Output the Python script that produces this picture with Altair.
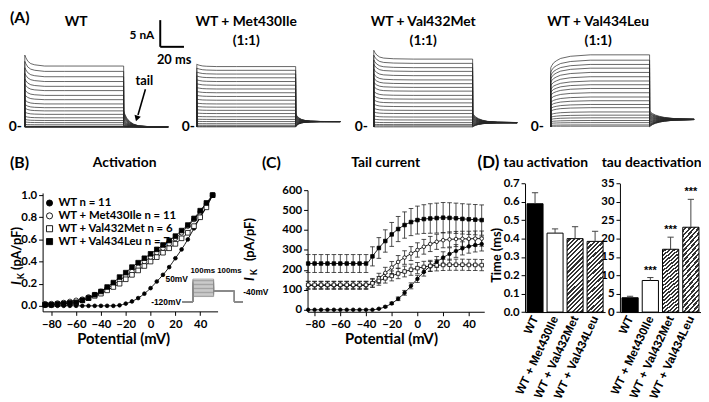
import altair as alt
import pandas as pd

# ======================= DATA =======================
SERIES = ["WT", "WT + Met430Ile", "WT + Val432Met", "WT + Val434Leu"]
N_CELLS = ["11", "11", "6", "7"]
V = [-85, -80, -75, -70, -65, -60, -55, -50, -45, -40, -35, -30, -25, -20,
     -15, -10, -5, 0, 5, 10, 15, 20, 25, 30, 35, 40, 45, 50]

# (B) normalised activation
ACT = {
    "WT": [0, 0, 0, 0, 0, 0, 0, 0, 0, 0, 0, 0, 0.005, 0.02, 0.04, 0.07, 0.11, 0.16,
           0.22, 0.28, 0.35, 0.43, 0.51, 0.60, 0.70, 0.80, 0.90, 1.0],
    "WT + Met430Ile": [0.02, 0.02, 0.025, 0.03, 0.04, 0.05, 0.06, 0.08, 0.10, 0.13, 0.16, 0.19,
                       0.23, 0.27, 0.31, 0.35, 0.40, 0.44, 0.48, 0.52, 0.56, 0.61, 0.66, 0.72,
                       0.78, 0.85, 0.92, 1.0],
    "WT + Val432Met": [0.01, 0.01, 0.015, 0.02, 0.025, 0.03, 0.05, 0.07, 0.09, 0.11, 0.14, 0.17,
                       0.20, 0.24, 0.28, 0.32, 0.36, 0.40, 0.44, 0.48, 0.52, 0.56, 0.61, 0.66,
                       0.72, 0.80, 0.89, 1.0],
    "WT + Val434Leu": [0.01, 0.01, 0.015, 0.02, 0.025, 0.03, 0.05, 0.07, 0.10, 0.13, 0.17, 0.21,
                       0.26, 0.30, 0.35, 0.39, 0.43, 0.47, 0.51, 0.55, 0.59, 0.63, 0.68, 0.73,
                       0.79, 0.86, 0.93, 1.0],
}

# (C) tail current (pA/pF) and SEM
TAIL = {
    "WT": [0, 0, 0, 0, 0, 0, 0, 0, 0, 0, 0, 5, 15, 32, 55, 85, 120, 155, 190, 218, 240, 262,
           280, 295, 308, 318, 325, 330],
    "WT + Met430Ile": [122, 122, 122, 122, 122, 122, 122, 122, 122, 122, 135, 158, 185, 212, 240,
                       262, 282, 300, 316, 330, 341, 349, 353, 355, 356, 356, 357, 357],
    "WT + Val432Met": [125, 125, 125, 125, 125, 125, 125, 125, 125, 125, 133, 145, 158, 170, 182,
                       192, 201, 209, 215, 220, 223, 225, 226, 226, 226, 225, 225, 224],
    "WT + Val434Leu": [232, 232, 232, 232, 232, 232, 232, 232, 232, 232, 268, 310, 345, 378, 405,
                       425, 440, 450, 455, 458, 460, 462, 461, 459, 456, 454, 452, 450],
}
TAIL_ERR = {
    "WT": [0, 0, 0, 0, 0, 0, 0, 0, 0, 0, 0, 2, 4, 6, 9, 12, 15, 18, 21, 24, 27, 29, 31, 32,
           33, 34, 35, 35],
    "WT + Met430Ile": [20, 20, 20, 20, 20, 20, 20, 20, 20, 20, 22, 25, 28, 30, 32, 34, 35, 36,
                       37, 38, 38, 38, 38, 38, 38, 38, 38, 38],
    "WT + Val432Met": [18, 18, 18, 18, 18, 18, 18, 18, 18, 18, 20, 22, 24, 25, 26, 27, 28, 28,
                       28, 28, 28, 28, 28, 28, 28, 28, 28, 28],
    "WT + Val434Leu": [45, 45, 45, 45, 45, 45, 45, 45, 45, 45, 48, 52, 56, 60, 63, 66, 68, 70,
                       72, 74, 75, 76, 76, 76, 76, 76, 76, 76],
}

# (D) time constants
TAU_ACT = [0.59, 0.43, 0.40, 0.385]
TAU_ACT_ERR = [0.06, 0.023, 0.065, 0.055]
TAU_DEACT = [3.9, 8.6, 17.1, 23.1]
TAU_DEACT_ERR = [0.4, 0.8, 3.3, 7.6]
SIG_ACT = ["", "", "", ""]
SIG_DEACT = ["", "***", "***", "***"]

# (A) current traces (nA): steady level of each sweep, onset and tail shapes
LEVELS = {
    "WT": [0, 0, 0, 0, 0, 0.1, 0.4, 0.8, 1.2, 1.7, 2.35, 3.0, 3.6, 4.3, 5.1, 5.9, 6.8, 7.6,
           8.5, 9.4, 10.4, 11.4],
    "WT + Met430Ile": [0, 0.1, 0.3, 0.6, 1.0, 1.4, 1.9, 2.5, 3.1, 3.7, 4.3, 5.0, 5.7, 6.4, 7.1,
                       7.8, 8.5, 9.2, 9.9, 10.6, 11.3],
    "WT + Val432Met": [0, 0.19, 0.43, 0.8, 1.3, 1.85, 2.5, 3.1, 3.8, 4.5, 5.2, 5.9, 6.7, 7.4,
                       8.1, 8.8, 9.6, 10.4, 11.1, 11.9, 12.7],
    "WT + Val434Leu": [0.13, 0.37, 0.8, 1.2, 1.7, 2.2, 2.8, 3.6, 4.2, 4.9, 5.6, 6.4, 7.2, 7.9,
                       8.6, 9.4, 10.2, 11.0, 11.7, 12.5, 13.5],
}
ONSET_T = [0, 0.01, 1, 3, 6, 10, 20, 40, 100]
ONSET_F = {
    "WT": [0, 1.18, 1.14, 1.08, 1.04, 1.02, 1.0, 1.0, 1.0],
    "WT + Met430Ile": [0, 1.04, 1.03, 1.02, 1.01, 1.005, 1.0, 1.0, 1.0],
    "WT + Val432Met": [0, 1.13, 1.1, 1.06, 1.03, 1.015, 1.005, 1.0, 1.0],
    "WT + Val434Leu": [0, 0.82, 0.85, 0.89, 0.92, 0.95, 0.98, 1.0, 1.0],
}
TAIL_T = [0, 1, 3, 6, 10, 15, 25, 45]
TAIL_F = {
    "WT": [1, 0.8, 0.55, 0.33, 0.17, 0.07, 0.02, 0],
    "WT + Met430Ile": [1, 0.72, 0.45, 0.25, 0.12, 0.05, 0.01, 0],
    "WT + Val432Met": [1, 0.85, 0.62, 0.42, 0.26, 0.14, 0.05, 0.01],
    "WT + Val434Leu": [1, 0.88, 0.7, 0.52, 0.37, 0.24, 0.1, 0.02],
}
TAIL_RATIO = {"WT": 0.27, "WT + Met430Ile": 0.23, "WT + Val432Met": 0.2, "WT + Val434Leu": 0.22}
TAIL_SS = {"WT": 0, "WT + Met430Ile": 1.0, "WT + Val432Met": 0.8, "WT + Val434Leu": 1.4}

# scale bar (WT panel): 5 nA, 20 ms
SB_T = [137, 137]
SB_T2 = [137, 161]
SB_I = [15, 15]
SB_I2 = [20, 15]

# protocol inset
PROTO_STEPS = [-80, -70, -60, -50, -40, -30, -20, -10, 0, 10, 20, 30, 40, 50]
PROTO_T = [-50, 0, 0, 100, 100, 200, 200, 240]
PROTO_HOLD = -120
PROTO_TAILV = -40

# ======================= LAYOUT / STYLE =======================
OFF = 8
W, H = 701, 394
TF = "Lato"
AF = "Liberation Sans"
MARK = {"WT": ("circle", "black"), "WT + Met430Ile": ("circle", "white"),
        "WT + Val432Met": ("square", "white"), "WT + Val434Leu": ("square", "black")}


def P(v):
    return v - OFF


def lin(domain, p0, p1, zero=False):
    return alt.Scale(domain=domain, range=[P(p0), P(p1)], nice=False, zero=zero)


def left_axis(xpage, values, fmt):
    return alt.Axis(orient="left", offset=-P(xpage), values=values, format=fmt, title=None,
                    grid=False, tickSize=4, labelPadding=2)


def bottom_axis(ypage, values, fmt):
    return alt.Axis(orient="bottom", offset=P(ypage) - H, values=values, format=fmt, title=None,
                    grid=False, tickSize=4, labelPadding=3)


def texts(items, size, font=TF, weight="bold", align="center", baseline="middle", angle=0,
          style=None):
    df = pd.DataFrame([{"t": t, "x": P(x), "y": P(y)} for t, x, y in items])
    mk = dict(font=font, fontWeight=weight, fontSize=size, align=align, baseline=baseline,
              color="black")
    if angle:
        mk["angle"] = angle
    if style:
        mk["fontStyle"] = style
    return alt.Chart(df).mark_text(**mk).encode(
        x=alt.X("x:Q", scale=None, axis=None), y=alt.Y("y:Q", scale=None, axis=None),
        text="t:N")


layers = []

# ---------------- (A) traces ----------------
TRACE_X0 = {"WT": 25, "WT + Met430Ile": 199, "WT + Val432Met": 378, "WT + Val434Leu": 557}
for name in SERIES:
    rows = []
    for s, L in enumerate(LEVELS[name]):
        k = 0
        for t, f in zip(ONSET_T, ONSET_F[name]):
            rows.append({"sweep": s, "k": k, "t": t, "i": L * f})
            k += 1
        a = TAIL_RATIO[name] * L
        c = TAIL_SS[name]
        for t, f in zip(TAIL_T, TAIL_F[name]):
            rows.append({"sweep": s, "k": k, "t": 100 + t, "i": c + (a - c) * f})
            k += 1
    df = pd.DataFrame(rows)
    xs = lin([0, 145], TRACE_X0[name], TRACE_X0[name] + 145)
    ys = lin([0, 20], 126, 18)
    sub = [alt.Chart(df).mark_line(color="#262626", strokeWidth=0.7).encode(
        x=alt.X("t:Q", scale=xs, axis=None), y=alt.Y("i:Q", scale=ys, axis=None),
        detail="sweep:N", order="k:Q")]
    if name == "WT":
        sb = pd.DataFrame({"t": SB_T, "t2": SB_T2, "i": SB_I, "i2": SB_I2})
        sub.append(alt.Chart(sb).mark_rule(strokeWidth=2, color="black").encode(
            x=alt.X("t:Q", scale=xs, axis=None), x2="t2:Q",
            y=alt.Y("i:Q", scale=ys, axis=None), y2="i2:Q"))
    layers.append(alt.layer(*sub))

# ---------------- (B) activation ----------------
bx = lin([-87, 54], 43, 220)
by = lin([-0.05, 1.02], 312.6, 192.8)
bxa = bottom_axis(312.6, [-80, -60, -40, -20, 0, 20, 40], "d")
bya = left_axis(43, [0, 0.2, 0.4, 0.6, 0.8, 1.0], ".1f")
bl = []
for s in SERIES:
    d = pd.DataFrame({"v": V, "val": ACT[s]})
    bl.append(alt.Chart(d).mark_line(color="black", strokeWidth=0.9, interpolate="monotone").encode(
        x=alt.X("v:Q", scale=bx, axis=bxa), y=alt.Y("val:Q", scale=by, axis=bya)))
for s in SERIES:
    shape, fill = MARK[s]
    d = pd.DataFrame({"v": V, "val": ACT[s]})
    bl.append(alt.Chart(d).mark_point(shape=shape, filled=True, fill=fill, stroke="black",
                                      strokeWidth=0.8, opacity=1,
                                      size=14 if s == "WT" else 22).encode(
        x=alt.X("v:Q", scale=bx, axis=bxa), y=alt.Y("val:Q", scale=by, axis=bya)))
layers.append(alt.layer(*bl))

# protocol inset
prow = []
for sv in PROTO_STEPS:
    vs = [PROTO_HOLD, PROTO_HOLD, sv, sv, PROTO_TAILV, PROTO_TAILV, PROTO_HOLD, PROTO_HOLD]
    for k, (t, v) in enumerate(zip(PROTO_T, vs)):
        prow.append({"step": sv, "k": k, "t": t, "mv": v})
layers.append(alt.Chart(pd.DataFrame(prow)).mark_line(color="#8a8a8a", strokeWidth=0.8).encode(
    x=alt.X("t:Q", scale=lin([-50, 240], 184.5, 245.4), axis=None),
    y=alt.Y("mv:Q", scale=lin([-120, 50], 303, 280), axis=None),
    detail="step:N", order="k:Q"))

# ---------------- (C) tail current ----------------
cx = lin([-85.5, 52], 311, 489.75)
cy = lin([-10, 600], 313, 190)
cxa = bottom_axis(313, [-80, -60, -40, -20, 0, 20, 40], "d")
cya = left_axis(311, [0, 100, 200, 300, 400, 500, 600], "d")
cl = []
for s in SERIES:
    d = pd.DataFrame({"v": V, "val": TAIL[s], "err": TAIL_ERR[s]})
    d["lo"] = d["val"] - d["err"]
    d["hi"] = d["val"] + d["err"]
    d = d[d["err"] > 0]
    X = alt.X("v:Q", scale=cx, axis=cxa)
    cl.append(alt.Chart(d).mark_rule(color="#222", strokeWidth=0.8).encode(
        x=X, y=alt.Y("lo:Q", scale=cy, axis=cya), y2="hi:Q"))
    for f in ["lo", "hi"]:
        cl.append(alt.Chart(d).mark_point(shape="stroke", size=22, color="#222",
                                          strokeWidth=0.8, opacity=1).encode(
            x=X, y=alt.Y(f + ":Q", scale=cy, axis=cya)))
for s in SERIES:
    d = pd.DataFrame({"v": V, "val": TAIL[s]})
    cl.append(alt.Chart(d).mark_line(color="black", strokeWidth=0.9, interpolate="monotone").encode(
        x=alt.X("v:Q", scale=cx, axis=cxa), y=alt.Y("val:Q", scale=cy, axis=cya)))
for s in SERIES:
    shape, fill = MARK[s]
    d = pd.DataFrame({"v": V, "val": TAIL[s]})
    cl.append(alt.Chart(d).mark_point(shape=shape, filled=True, fill=fill, stroke="black",
                                      strokeWidth=0.8, opacity=1, size=13).encode(
        x=alt.X("v:Q", scale=cx, axis=cxa), y=alt.Y("val:Q", scale=cy, axis=cya)))
layers.append(alt.layer(*cl))


# ---------------- (D) bar panels ----------------
def hatch():
    period = 0.0125
    stops = []
    o = 0.0
    while o < 0.45:
        a = round(o, 5)
        b = round(o + 0.5 * period, 5)
        c = round(o + period, 5)
        stops += [{"offset": a, "color": "white"}, {"offset": b, "color": "white"},
                  {"offset": b, "color": "#333333"}, {"offset": c, "color": "#333333"}]
        o += period
    stops.append({"offset": 1, "color": "#333333"})
    return {"gradient": "linear", "x1": 0, "y1": 0, "x2": 1, "y2": 4.6, "stops": stops}


def dpanel(vals, errs, sig, x0, x1, ydom, yvals, yfmt):
    df = pd.DataFrame({"c": SERIES, "m": vals, "e": errs, "sig": sig})
    df["top"] = df["m"] + df["e"]
    xs = alt.Scale(domain=SERIES, range=[P(x0), P(x1)], paddingInner=0.2, paddingOuter=0.1)
    ys = lin(ydom, 313.3, 183.3, zero=True)
    xa = alt.Axis(orient="bottom", offset=P(313.3) - H, labelAngle=295, ticks=False, title=None,
                  grid=False, labelFont=AF, labelFontSize=12, labelPadding=4)
    ya = left_axis(x0, yvals, yfmt)
    X = alt.X("c:N", scale=xs, axis=xa, sort=SERIES)
    Ym = alt.Y("m:Q", scale=ys, axis=ya)
    Yt = alt.Y("top:Q", scale=ys, axis=ya)
    out = []
    fills = [("WT", "black"), ("WT + Met430Ile", "white")]
    for c, f in fills:
        out.append(alt.Chart(df).transform_filter(alt.datum.c == c).mark_bar(
            fill=f, stroke="black", strokeWidth=1).encode(x=X, y=Ym))
    out.append(alt.Chart(df).transform_filter(
        alt.FieldOneOfPredicate(field="c", oneOf=SERIES[2:])).mark_bar(
        fill=hatch(), stroke="black", strokeWidth=1).encode(x=X, y=Ym))
    out.append(alt.Chart(df).mark_rule(color="#444", strokeWidth=1).encode(x=X, y=Ym, y2="top:Q"))
    out.append(alt.Chart(df).mark_point(shape="stroke", size=40, color="#444", strokeWidth=1,
                                        opacity=1).encode(x=X, y=Yt))
    out.append(alt.Chart(df).mark_text(dy=-2, baseline="bottom", font=AF, fontWeight="bold",
                                       fontSize=11, color="black").encode(
        x=X, y=Yt, text="sig:N"))
    return alt.layer(*out)


layers.append(dpanel(TAU_ACT, TAU_ACT_ERR, SIG_ACT, 531, 612, [0, 0.7],
                     [0, 0.1, 0.2, 0.3, 0.4, 0.5, 0.6, 0.7], ".1f"))
layers.append(dpanel(TAU_DEACT, TAU_DEACT_ERR, SIG_DEACT, 627, 709, [0, 35],
                     [0, 5, 10, 15, 20, 25, 30, 35], "d"))

# ---------------- annotations ----------------
layers.append(texts([("(A)", 10, 16), ("(B)", 10, 163), ("(C)", 265, 163)], 16, align="left"))
layers.append(texts([("(D)", 483, 163)], 17, align="left"))
layers.append(texts([("WT", 77, 20), ("WT + Met430Ile", 249, 20), ("(1:1)", 249, 39),
                     ("WT + Val432Met", 428, 20), ("(1:1)", 428, 39),
                     ("WT + Val434Leu", 605, 20), ("(1:1)", 605, 39),
                     ("Activation", 126, 163), ("Tail current", 390, 163),
                     ("tau  activation", 552, 163), ("tau deactivation", 659, 163)], 14))
layers.append(texts([("5 nA", 156, 33)], 12, align="right"))
layers.append(texts([("20 ms", 176, 58), ("tail", 146, 80)], 13))
layers.append(texts([("0-", 22, 126), ("0-", 197, 126), ("0-", 372, 126), ("0-", 550, 126)],
                    14, align="right"))
layers.append(texts([("Potential (mV)", 125, 341), ("Potential (mV)", 396, 341)], 15))
layers.append(texts([("(pA/pF)", 17, 249), ("(pA/pF)", 253, 240)], 13, angle=270))
layers.append(texts([("I", 17, 284), ("I", 253, 280)], 14, angle=270, style="italic"))
layers.append(texts([("K", 21, 277), ("K", 257, 273)], 9, angle=270))
layers.append(texts([("Time (ms)", 503, 256)], 13, angle=270))
# protocol labels
layers.append(texts([("50mV", 190, 280), ("-120mV", 183, 303)], 8.5, font=AF, align="right"))
layers.append(texts([("100ms", 205, 272), ("100ms", 232, 272)], 8, font=AF))
layers.append(texts([("-40mV", 246, 293)], 8.5, font=AF, align="left"))

# arrow for "tail"
arr = pd.DataFrame({"x": [P(147)], "y": [P(88)], "x2": [P(139.5)], "y2": [P(114)]})
layers.append(alt.Chart(arr).mark_rule(color="black", strokeWidth=1.6).encode(
    x=alt.X("x:Q", scale=None, axis=None), y=alt.Y("y:Q", scale=None, axis=None),
    x2="x2:Q", y2="y2:Q"))
head = pd.DataFrame({"x": [P(138.6)], "y": [P(116.5)]})
layers.append(alt.Chart(head).mark_point(shape="triangle", angle=197, size=45, filled=True,
                                         color="black", opacity=1).encode(
    x=alt.X("x:Q", scale=None, axis=None), y=alt.Y("y:Q", scale=None, axis=None)))

# legend of (B)
LEG_Y = [203, 216, 229, 242]
for s, ly in zip(SERIES, LEG_Y):
    shape, fill = MARK[s]
    sym = pd.DataFrame({"x": [P(50)], "y": [P(ly)]})
    layers.append(alt.Chart(sym).mark_point(shape=shape, filled=True, fill=fill, stroke="black",
                                            strokeWidth=0.9, opacity=1, size=38).encode(
        x=alt.X("x:Q", scale=None, axis=None), y=alt.Y("y:Q", scale=None, axis=None)))
layers.append(texts([(s + "  n = " + n, 59, ly) for s, n, ly in zip(SERIES, N_CELLS, LEG_Y)],
                    11.5, align="left"))

chart = alt.layer(*layers).resolve_scale(x="independent", y="independent").resolve_axis(
    x="independent", y="independent").properties(
    width=W, height=H, autosize=alt.AutoSizeParams(type="none"), padding=0
).configure_view(stroke=None).configure_axis(
    labelFont=TF, labelFontWeight="bold", labelFontSize=11.5, labelColor="black",
    domainColor="black", tickColor="black", domainWidth=1, tickWidth=1)

chart.save("out.html", embed_options={"renderer": "svg", "actions": False})
